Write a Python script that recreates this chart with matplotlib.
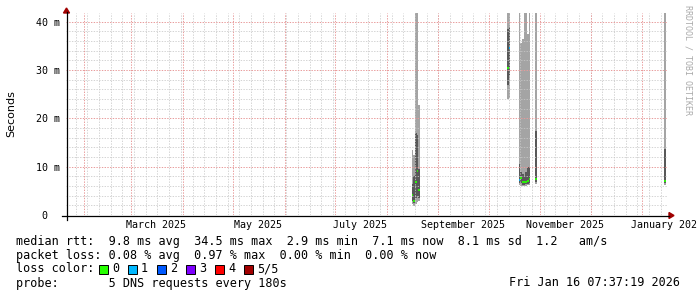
import matplotlib
matplotlib.use("Agg")
import matplotlib.pyplot as plt
import matplotlib.dates as mdates
from matplotlib.lines import Line2D
from matplotlib.patches import Rectangle, Polygon
from datetime import datetime, timedelta
import numpy as np

# smoke data in ms, one bin per day (5 pings sorted: min, 2nd, median, 4th, max)
bin_dates = ["2025-08-16", "2025-08-17", "2025-08-18", "2025-08-19", "2025-08-20",
             "2025-10-12", "2025-10-13",
             "2025-10-19", "2025-10-20", "2025-10-21", "2025-10-22", "2025-10-23",
             "2025-10-24", "2025-10-25",
             "2025-10-29",
             "2026-01-14"]
rtt_min = [2.2, 1.9, 2.3, 2.6, 2.8, 24.0, 24.3, 6.2, 6.1, 5.9, 6.0, 6.1, 6.2, 6.3, 6.5, 6.3]
rtt_q1 = [3.0, 2.5, 3.5, 4.0, 3.6, 27.0, 29.0, 6.6, 6.7, 6.3, 6.3, 6.4, 6.5, 6.6, 6.8, 6.6]
rtt_median = [4.1, 2.9, 6.8, 9.2, 5.2, 30.4, 34.5, 7.2, 7.6, 6.8, 6.9, 6.9, 7.0, 7.4, 7.4, 7.1]
rtt_q3 = [6.5, 8.0, 17.0, 16.5, 9.5, 38.5, 39.0, 10.5, 9.0, 8.5, 8.0, 9.0, 10.0, 10.0, 17.4, 13.6]
rtt_max = [13.5, 12.5, 42, 42, 22.8, 42, 42, 42, 35.5, 36.5, 42, 42, 37.5, 42, 42, 42]
lost = [0, 0, 0, 0, 0, 0, 1, 1, 0, 0, 0, 0, 0, 0, 0, 0]

loss_labels = ["0", "1", "2", "3", "4", "5/5"]
loss_colors = ["#26ff00", "#00b8ff", "#0059ff", "#7e00ff", "#ff0000", "#a10000"]

y_ticks = [0, 10, 20, 30, 40]
y_tick_labels = ["0  ", "10 m", "20 m", "30 m", "40 m"]
label_dates = ["2025-03-16", "2025-05-16", "2025-07-16", "2025-09-16", "2025-11-16", "2026-01-16"]
month_labels = ["March 2025", "May 2025", "July 2025", "September 2025", "November 2025", "January 2026"]

stats_line = "median rtt:  9.8 ms avg  34.5 ms max  2.9 ms min  7.1 ms now  8.1 ms sd  1.2   am/s"
loss_line = "packet loss: 0.08 % avg  0.97 % max  0.00 % min  0.00 % now"
probe_line = "probe:       5 DNS requests every 180s"
stamp = "Fri Jan 16 07:37:19 2026"

end = datetime(2026, 1, 16, 7, 37, 19)
start = end - timedelta(days=360)

W, H = 697, 297
L, R, T, B = 66, 668, 13, 215
MONO = "DejaVu Sans Mono"


def fx(px):
    return px / W


def fy(py):
    return 1 - py / H


fig = plt.figure(figsize=(W / 100, H / 100), dpi=100)
fig.patch.set_facecolor("white")
ax = fig.add_axes([fx(L), fy(B), (R - L) / W, (B - T) / H])
ax.set_xlim(mdates.date2num(start), mdates.date2num(end))
ax.set_ylim(0, 41.8)
for s in ax.spines.values():
    s.set_visible(False)

# smoke
x = mdates.date2num([datetime.fromisoformat(d) for d in bin_dates])
lo, q1, q3, hi = map(np.array, (rtt_min, rtt_q1, rtt_q3, rtt_max))
ax.bar(x, hi - lo, bottom=lo, width=1.0, align="edge", color="#a4a4a4", linewidth=0, zorder=2)
ax.bar(x, q3 - q1, bottom=q1, width=1.0, align="edge", color="#585858", linewidth=0, zorder=3)
ax.hlines(rtt_median, x, x + 1.0, colors=[loss_colors[l] for l in lost], linewidth=1.3, zorder=7)

# grid (drawn over the smoke, semi transparent like rrdtool)
dot = (0, (1.4, 1.4))
minor_c, major_c = "#c8c8c8", "#e89a9a"
for v in np.arange(0, 41.8, 2):
    if v % 10:
        ax.axhline(v, color=minor_c, lw=0.7, ls=dot, alpha=0.8, zorder=5)
for v in y_ticks[1:]:
    ax.axhline(v, color=major_c, lw=0.7, ls=dot, zorder=6)
d = datetime(2025, 1, 27)
while d < end:
    ax.axvline(mdates.date2num(d), color=minor_c, lw=0.7, ls=dot, alpha=0.8, zorder=5)
    d += timedelta(days=7)
for m in range(2, 14):
    d = datetime(2025 + (m - 1) // 12, (m - 1) % 12 + 1, 1)
    ax.axvline(mdates.date2num(d), color=major_c, lw=0.7, ls=dot, zorder=6)

# ticks
ax.set_yticks(y_ticks, y_tick_labels, family=MONO, fontsize=7.2)
ax.set_xticks(mdates.date2num([datetime.fromisoformat(d) for d in label_dates]), month_labels,
              family=MONO, fontsize=7.2)
ax.tick_params(axis="both", length=0)
ax.tick_params(axis="y", pad=4.3)
ax.tick_params(axis="x", pad=3.5)

# axis lines with arrows
fig.add_artist(Line2D([fx(62), fx(669)], [fy(B + 0.5), fy(B + 0.5)], color="black", lw=0.9))
fig.add_artist(Line2D([fx(L + 0.5), fx(L + 0.5)], [fy(220), fy(12)], color="black", lw=0.9))
fig.add_artist(Polygon([(fx(63.5), fy(13)), (fx(69.5), fy(13)), (fx(66.5), fy(8))],
                       closed=True, color="#a00000", transform=fig.transFigure))
fig.add_artist(Polygon([(fx(669), fy(212.5)), (fx(669), fy(218.5)), (fx(674), fy(215.5))],
                       closed=True, color="#a00000", transform=fig.transFigure))

fig.text(fx(11), fy(114), "Seconds", rotation=90, ha="center", va="center",
         family="DejaVu Sans", fontsize=8)
fig.text(fx(688), fy(5), "RRDTOOL / TOBI OETIKER", rotation=270, ha="center", va="top",
         family=MONO, fontsize=6, color="#aaaaaa")

# legend text
fs = 8.5
fig.text(fx(16), fy(241), stats_line, va="center", family=MONO, fontsize=fs)
fig.text(fx(16), fy(255), loss_line, va="center", family=MONO, fontsize=fs)
fig.text(fx(16), fy(269), "loss color:", va="center", family=MONO, fontsize=fs)
for i, (lab, col) in enumerate(zip(loss_labels, loss_colors)):
    bx = 99 + 29 * i
    fig.add_artist(Rectangle((fx(bx), fy(274)), 9 / W, 9 / H, transform=fig.transFigure,
                             facecolor=col, edgecolor="black", lw=0.7))
    fig.text(fx(bx + 13), fy(269), lab, va="center", family=MONO, fontsize=fs)
fig.text(fx(16), fy(283), probe_line, va="center", family=MONO, fontsize=fs)
fig.text(fx(680), fy(283), stamp, ha="right", va="center", family=MONO, fontsize=fs)

fig.savefig("out.png", dpi=100)
